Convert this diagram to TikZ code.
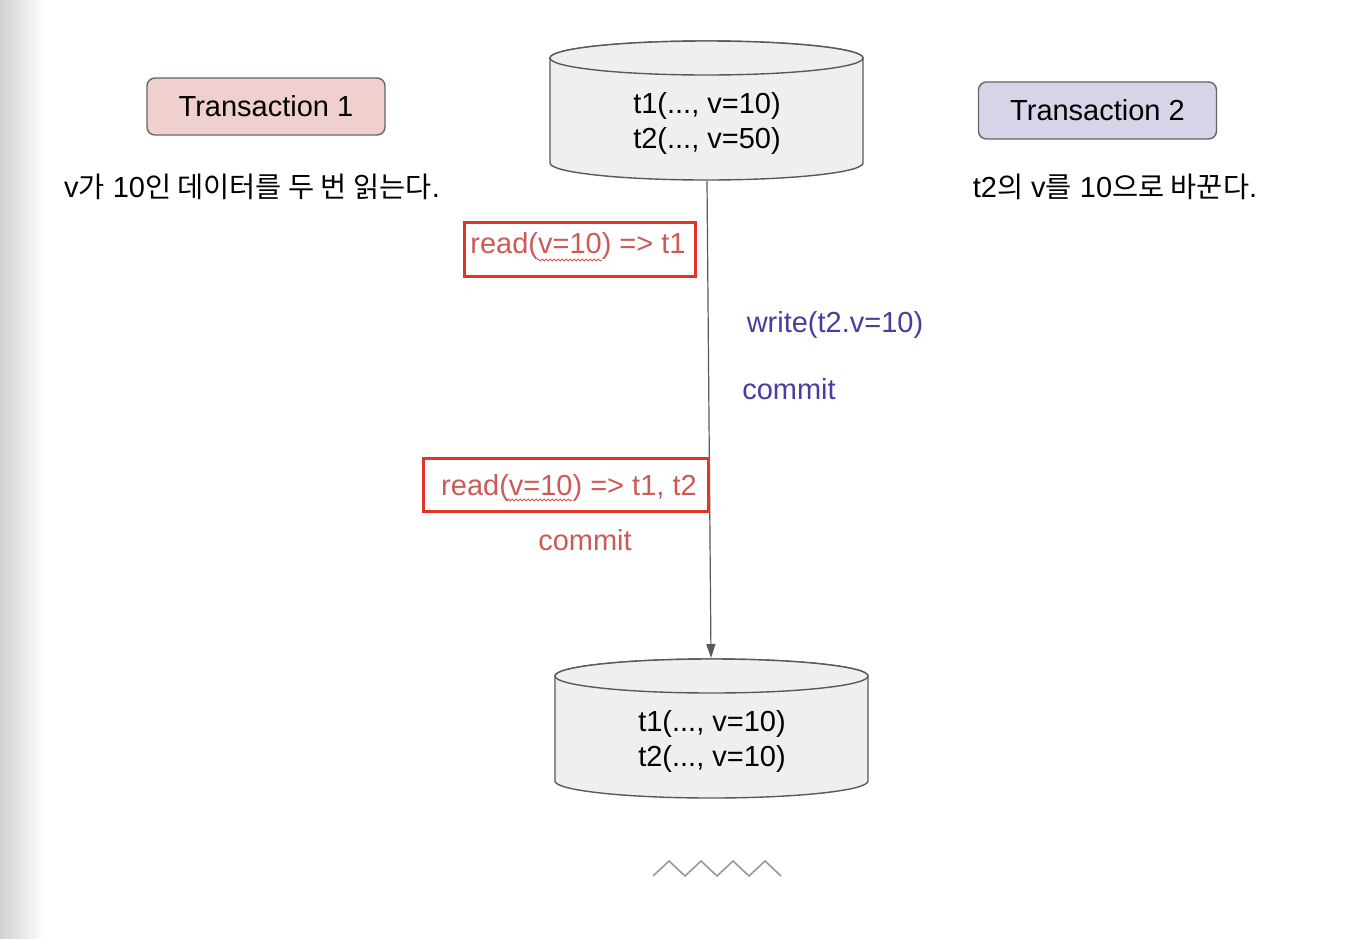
\documentclass[tikz,border=0pt]{standalone}
\usepackage{fontspec}
\setmainfont{Liberation Sans}
\newfontfamily\krfont{Noto Sans CJK KR}
\usetikzlibrary{arrows.meta,decorations.pathmorphing}
\definecolor{boxline}{HTML}{666666}
\definecolor{cylline}{HTML}{595959}
\definecolor{cylfill}{HTML}{EFEFEF}
\definecolor{tonefill}{HTML}{F0CFCF}
\definecolor{ttwofill}{HTML}{D9D3E9}
\definecolor{redline}{HTML}{E3342B}
\definecolor{redtext}{HTML}{CC5A57}
\definecolor{purpletext}{HTML}{4B3C9E}
\definecolor{zigcol}{HTML}{999999}
\newcommand\hk[1]{{\krfont\fontsize{28.4}{32}\selectfont #1}}
\tikzset{
  txt/.style={font=\fontsize{29}{35}\selectfont, inner sep=0pt},
  txbox/.style={draw=boxline, line width=1.4pt, rounded corners=8pt, minimum width=238pt, minimum height=57pt, txt},
  cyl/.style={draw=cylline, line width=1.4pt, fill=cylfill},
  redbox/.style={draw=redline, line width=3pt, minimum width=231pt, minimum height=54pt, inner sep=0pt},
  redtxt/.style={txt, text=redtext},
  purtxt/.style={txt, text=purpletext},
  wavy/.style={draw=redtext, line width=0.8pt, decorate, decoration={snake, segment length=4pt, amplitude=1.1pt}},
  flow/.style={draw=cylline, line width=1.2pt, -{Triangle[length=14pt,width=9pt]}},
  zig/.style={draw=zigcol, line width=1.6pt}
}
\begin{document}
\begin{tikzpicture}[x=1pt,y=-1pt]
\useasboundingbox (0,0) rectangle (1366,938);
\fill[white] (0,0) rectangle (1366,938);
\shade[left color=black!18, right color=white] (0,0) rectangle (45,938);

% transaction boxes
\node[txbox, fill=tonefill] (tx1) at (266,106.5) {Transaction 1};
\node[txbox, fill=ttwofill] (tx2) at (1097.5,110.5) {Transaction 2};

% descriptions
\node[txt] (d1) at (252,186.5) {v\hk{가} 10\hk{인 데이터를 두 번 읽는다}.};
\node[txt] (d2) at (1115,186.5) {t2\hk{의} v\hk{를} 10\hk{으로 바꾼다}.};

% top cylinder
\filldraw[cyl] (550,58) -- (550,163) arc[start angle=180, end angle=0, x radius=156.5, y radius=17] -- (863,58) arc[start angle=0, end angle=-180, x radius=156.5, y radius=17] -- cycle;
\draw[cyl] (706.5,58) ellipse[x radius=156.5, y radius=17];
\node[txt, align=center] (db1) at (707,123.5) {t1(..., v=10)\\t2(..., v=50)};

% bottom cylinder
\filldraw[cyl] (555,676) -- (555,781) arc[start angle=180, end angle=0, x radius=156.5, y radius=17] -- (868,676) arc[start angle=0, end angle=-180, x radius=156.5, y radius=17] -- cycle;
\draw[cyl] (711.5,676) ellipse[x radius=156.5, y radius=17];
\node[txt, align=center] (db2) at (712,741.5) {t1(..., v=10)\\t2(..., v=10)};

% arrow
\coordinate (a1) at (707,181);
\coordinate (a2) at (711,658);
\draw[flow] (a1) -- (a2);

% transaction 1 reads
\node[redbox] (r1box) at (579.5,249) {};
\node[redtxt] (r1) at (578,246) {read(v=10) => t1};
\draw[wavy] (537,260) -- (602,260);

\node[redbox, minimum width=285pt, minimum height=53pt] (r2box) at (565.5,484.5) {};
\node[redtxt] (r2) at (569,488) {read(v=10) => t1, t2};
\draw[wavy] (507,500) -- (572,500);
\node[redtxt] (c1) at (585,540) {commit};

% transaction 2
\node[purtxt] (w2) at (835,325) {write(t2.v=10)};
\node[purtxt] (c2) at (789,389) {commit};

% zigzag
\draw[zig] (653,876) -- (669,861) -- (685,876) -- (701,861) -- (717,876) -- (733,861) -- (749,876) -- (765,861) -- (781,876);
\end{tikzpicture}
\end{document}
